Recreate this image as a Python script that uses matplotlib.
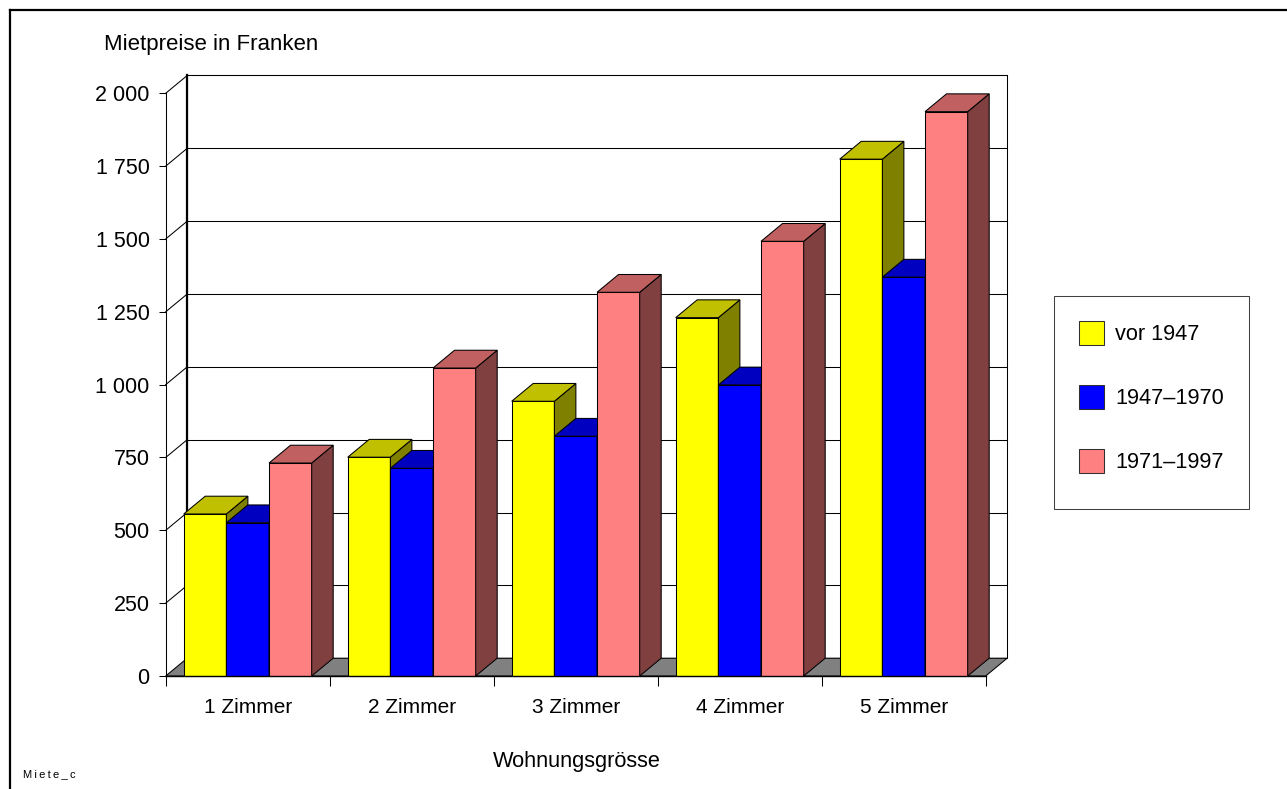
import matplotlib
matplotlib.use("Agg")
import matplotlib.pyplot as plt
from matplotlib.patches import Polygon, Rectangle
from matplotlib.lines import Line2D
from matplotlib.ticker import FuncFormatter

# ---- data -------------------------------------------------------------
categories = ["1 Zimmer", "2 Zimmer", "3 Zimmer", "4 Zimmer", "5 Zimmer"]
series_labels = ["vor 1947", "1947\u20131970", "1971\u20131997"]
vor_1947 = [556, 751, 943, 1230, 1774]
von_1947_bis_1970 = [526, 713, 823, 999, 1369]
von_1971_bis_1997 = [731, 1057, 1317, 1492, 1937]
series_values = [vor_1947, von_1947_bis_1970, von_1971_bis_1997]
y_ticks = [0, 250, 500, 750, 1000, 1250, 1500, 1750, 2000]

# face colours: front, top, side
front_colors = ["#FFFF00", "#0000FF", "#FF8080"]
top_colors = ["#C0C000", "#0000C0", "#C06060"]
side_colors = ["#808000", "#000080", "#804040"]

plt.rcParams["font.family"] = ["Liberation Sans", "DejaVu Sans"]

W, H = 1287, 789
fig = plt.figure(figsize=(W / 100, H / 100), dpi=100)


def fx(px):
    return px / W


def fy(py):
    return 1 - py / H


# front plane of the chart
x0, x1 = 165.7, 985.7
y0, y1 = 676.0, 93.3
ax = fig.add_axes([fx(x0), fy(y0), fx(x1 - x0), (y0 - y1) / H])
ymax = 2000
ncat = len(categories)
ax.set_xlim(0, ncat)
ax.set_ylim(0, ymax)
for s in ax.spines.values():
    s.set_visible(False)
ax.patch.set_visible(False)

# depth offset of the pseudo-3D box (pixels -> data units)
DEPTH_X, DEPTH_Y = 21.5, 17.8
dx = DEPTH_X / ((x1 - x0) / ncat)
dy = DEPTH_Y / ((y0 - y1) / ymax)

lw1 = 0.75

# back wall
ax.add_patch(Rectangle((dx, dy), ncat, ymax, facecolor="white",
                       edgecolor="black", linewidth=lw1, zorder=0.5, clip_on=False))
ax.add_line(Line2D([dx, dx], [dy, ymax + dy], color="black", linewidth=1.6,
                   zorder=0.8, clip_on=False))
for v in y_ticks[1:]:
    ax.add_line(Line2D([dx, ncat + dx], [v + dy, v + dy], color="black",
                       linewidth=lw1, zorder=0.7, clip_on=False))
    ax.add_line(Line2D([0, dx], [v, v + dy], color="black",
                       linewidth=lw1, zorder=0.7, clip_on=False))

# floor
ax.add_patch(Polygon([(0, 0), (ncat, 0), (ncat + dx, dy), (dx, dy)],
                     closed=True, facecolor="#808080", edgecolor="black",
                     linewidth=lw1, zorder=1, clip_on=False))

# left axis line and front base line
ax.add_line(Line2D([0, 0], [0, ymax], color="black", linewidth=lw1,
                   zorder=1.1, clip_on=False))
ax.add_line(Line2D([0, ncat], [0, 0], color="black", linewidth=1.0,
                   zorder=50, clip_on=False))

# bars
gap = 0.1098
bw = (1 - 2 * gap) / len(series_values)
z = 2
for c in range(ncat):
    for i, vals in enumerate(series_values):
        left = c + gap + i * bw
        v = vals[c]
        bar = ax.bar(left, v, width=bw, align="edge", color=front_colors[i],
                     edgecolor="black", linewidth=lw1, zorder=z)[0]
        bar.set_clip_on(False)
        top = Polygon([(left, v), (left + bw, v), (left + bw + dx, v + dy),
                       (left + dx, v + dy)], closed=True,
                      facecolor=top_colors[i], edgecolor="black",
                      linewidth=lw1, zorder=z, clip_on=False)
        side = Polygon([(left + bw, 0), (left + bw + dx, dy),
                        (left + bw + dx, v + dy), (left + bw, v)], closed=True,
                       facecolor=side_colors[i], edgecolor="black",
                       linewidth=lw1, zorder=z, clip_on=False)
        ax.add_patch(side)
        ax.add_patch(top)
        z += 1

# ticks and labels
ax.set_yticks(y_ticks)
ax.yaxis.set_major_formatter(FuncFormatter(lambda v, p: f"{int(v):,}".replace(",", " ")))
ax.tick_params(axis="y", direction="out", length=5, width=lw1, pad=6.5,
               labelsize=15.5, color="black")
ax.set_xticks(range(ncat + 1))
ax.set_xticklabels([""] * (ncat + 1))
ax.tick_params(axis="x", which="major", direction="out", length=7.5, width=lw1)
ax.set_xticks([c + 0.5 for c in range(ncat)], minor=True)
ax.set_xticklabels(categories, minor=True)
ax.tick_params(axis="x", which="minor", length=0, pad=16, labelsize=15)

fig.text(fx(104), fy(50), "Mietpreise in Franken", fontsize=16,
         ha="left", va="baseline")
fig.text(fx(577), fy(767), "Wohnungsgrösse", fontsize=15.7,
         ha="center", va="baseline")
fig.text(fx(23), fy(777.5), "\u2009".join("Miete_c"), fontsize=8,
         ha="left", va="baseline")

# outer frame (top and left edges)
fig.add_artist(Line2D([fx(10), fx(W)], [fy(10), fy(10)], color="black",
                      linewidth=1.6, transform=fig.transFigure))
fig.add_artist(Line2D([fx(10), fx(10)], [fy(10), fy(H)], color="black",
                      linewidth=1.6, transform=fig.transFigure))

# legend box
fig.add_artist(Rectangle((fx(1054.3), fy(509)), fx(1249.3 - 1054.3), (509 - 295.7) / H,
                         facecolor="white", edgecolor="#404040", linewidth=lw1,
                         transform=fig.transFigure))
for i, lab in enumerate(series_labels):
    cy = 333 + i * 64
    fig.add_artist(Rectangle((fx(1079), fy(cy + 12)), fx(25), 24 / H,
                             facecolor=front_colors[i], edgecolor="#303030",
                             linewidth=lw1, transform=fig.transFigure))
    fig.text(fx(1115), fy(cy + 1.5), lab, fontsize=15.7, ha="left", va="center")

fig.savefig("out.png", dpi=100)
